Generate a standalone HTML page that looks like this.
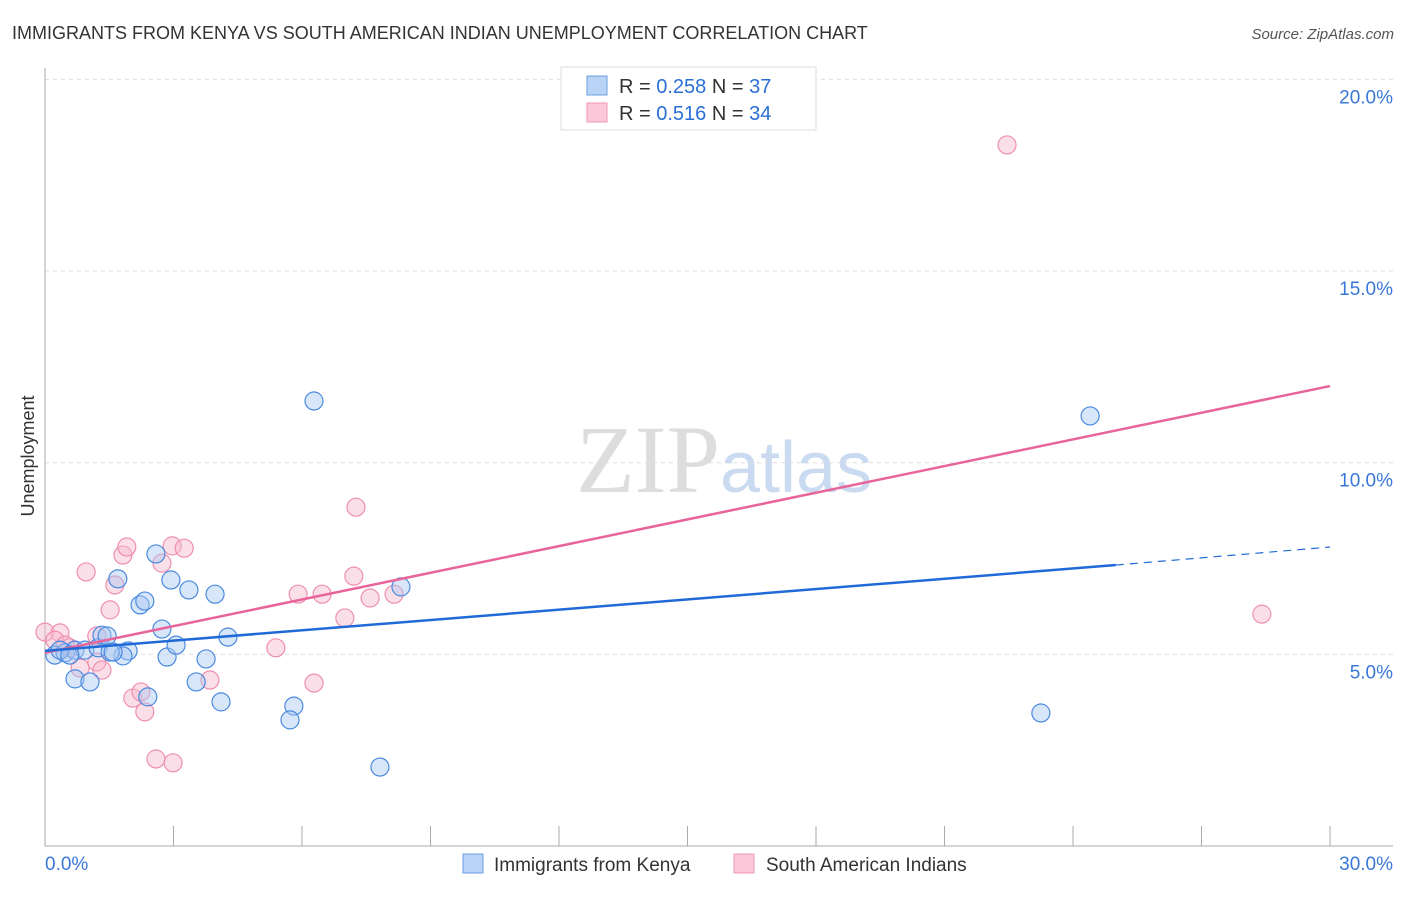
<!DOCTYPE html>
<html><head><meta charset="utf-8"><style>
body{margin:0;background:#fff;font-family:"Liberation Sans",sans-serif}
</style></head><body>
<svg width="1406" height="892" xmlns="http://www.w3.org/2000/svg" id="svg">
<text x="12" y="39" font-size="18" fill="#333">IMMIGRANTS FROM KENYA VS SOUTH AMERICAN INDIAN UNEMPLOYMENT CORRELATION CHART</text>
<text x="1394" y="39" font-size="15" fill="#555" text-anchor="end" font-style="italic">Source: ZipAtlas.com</text>
<text x="34" y="456" font-size="18" fill="#333" text-anchor="middle" transform="rotate(-90 34 456)">Unemployment</text>
<text x="720" y="492" font-size="96" fill="#ddd" text-anchor="end" font-family="Liberation Serif">ZIP</text>
<text x="720" y="492" font-size="72" fill="#c9daf1">atlas</text>
<g id="grid"></g><g id="axes"></g><g id="marks"></g>
<g>
<rect x="561" y="67" width="255" height="63" fill="#fff" stroke="#ddd"/>
<rect x="587" y="76" width="20" height="19" fill="#b8d3f5" stroke="#6a9fe0"/>
<rect x="587" y="103" width="20" height="19" fill="#fac8d8" stroke="#ee9ab8"/>
<text x="619" y="93" font-size="20" fill="#333">R = <tspan fill="#2a6fd6">0.258</tspan>   N = <tspan fill="#2a6fd6">37</tspan></text>
<text x="619" y="120" font-size="20" fill="#333">R = <tspan fill="#2a6fd6"> 0.516</tspan>   N = <tspan fill="#2a6fd6">34</tspan></text>
</g>
<g>
<rect x="463" y="854" width="20" height="19" fill="#b8d3f5" stroke="#6a9fe0"/>
<text x="494" y="871" font-size="19" fill="#333">Immigrants from Kenya</text>
<rect x="734" y="854" width="20" height="19" fill="#fac8d8" stroke="#ee9ab8"/>
<text x="766" y="871" font-size="19" fill="#333">South American Indians</text>
</g>
</svg>
<script>
const blueX=[0.23,0.47,0.70,0.93,1.24,1.94,1.82,1.52,1.33,1.45,0.70,1.05,1.70,2.22,2.33,2.59,2.94,3.36,3.97,2.73,2.85,3.06,3.76,3.53,4.11,4.27,2.40,5.81,5.72,6.28,7.82,8.31,23.25,24.40,0.35,0.58,1.59];
const blueY=[4.98,5.04,5.11,5.11,5.17,5.09,4.96,5.06,5.50,5.48,4.36,4.28,6.97,6.29,6.39,7.62,6.94,6.68,6.57,5.66,4.93,5.24,4.88,4.28,3.76,5.45,3.89,3.65,3.29,11.61,2.06,6.76,3.47,11.22,5.11,4.98,5.06];
const pinkX=[0.0,0.35,0.58,0.96,1.21,0.82,1.21,1.33,1.52,1.63,1.82,1.91,2.73,2.97,3.25,2.05,2.24,2.33,2.59,2.99,3.85,5.39,5.91,6.47,7.00,7.21,7.26,7.59,8.15,6.28,22.46,28.41,0.23,0.47];
const pinkY=[5.58,5.56,5.17,7.15,5.48,4.64,4.80,4.59,6.16,6.81,7.59,7.80,7.38,7.83,7.77,3.86,4.02,3.50,2.27,2.17,4.33,5.17,6.57,6.57,5.95,7.04,8.84,6.47,6.57,4.25,18.29,6.05,5.37,5.24];
const yTicks=[5,10,15,20];
const yTickLabels=["5.0%","10.0%","15.0%","20.0%"];
const blueTrend=[[0,5.09],[25,7.33],[30,7.8]];
const pinkTrend=[[0,5.04],[30,12.0]];
const NS="http://www.w3.org/2000/svg";
const sx=v=>45+v*(1285/30);
const sy=v=>846-v*38.33;
function mk(t,a,p){const e=document.createElementNS(NS,t);for(const k in a)e.setAttribute(k,a[k]);document.getElementById(p).appendChild(e);return e;}
yTicks.forEach((t,i)=>{
 const l=mk('line',{x1:45,x2:1393,y1:sy(t),y2:sy(t),stroke:'#ddd','stroke-dasharray':'4,4'},'grid');
 
 
 const tx=mk('text',{x:1393,y:sy(t)+24,'font-size':19,fill:'#3a78d8','text-anchor':'end'},'grid');
 tx.textContent=yTickLabels[i];
 
 
});
mk('line',{x1:45,x2:45,y1:68,y2:846,stroke:'#aaa'},'axes');
mk('line',{x1:45,x2:1393,y1:846,y2:846,stroke:'#aaa'},'axes');
for(let i=1;i<=10;i++){const t=mk('line',{x1:sx(i*3),x2:sx(i*3),y1:826,y2:846,stroke:'#aaa'},'axes');}
let a=mk('text',{x:45,y:870,'font-size':19,fill:'#3a78d8'},'axes');a.textContent='0.0%';

a=mk('text',{x:1393,y:870,'font-size':19,fill:'#3a78d8','text-anchor':'end'},'axes');a.textContent='30.0%';

function pts(X,Y,fill,stroke,name){X.forEach((x,i)=>{
 const c=mk('circle',{cx:sx(x),cy:sy(Y[i]),r:9,fill:fill,'fill-opacity':0.45,stroke:stroke,'stroke-width':1.2},'marks');
 
 
});}
pts(pinkX,pinkY,'#f7b7cc','#ee8fb0','pink-point');
pts(blueX,blueY,'#a9c8f1','#4a8ae0','blue-point');
let l=mk('line',{x1:sx(pinkTrend[0][0]),y1:sy(pinkTrend[0][1]),x2:sx(pinkTrend[1][0]),y2:sy(pinkTrend[1][1]),stroke:'#e8649a','stroke-width':2.5},'marks');


l=mk('line',{x1:sx(blueTrend[0][0]),y1:sy(blueTrend[0][1]),x2:sx(blueTrend[1][0]),y2:sy(blueTrend[1][1]),stroke:'#1f6ad6','stroke-width':2.5},'marks');


l=mk('line',{x1:sx(blueTrend[1][0]),y1:sy(blueTrend[1][1]),x2:sx(blueTrend[2][0]),y2:sy(blueTrend[2][1]),stroke:'#1f6ad6','stroke-width':1.2,'stroke-dasharray':'8,6'},'marks');


</script>
</body></html>
